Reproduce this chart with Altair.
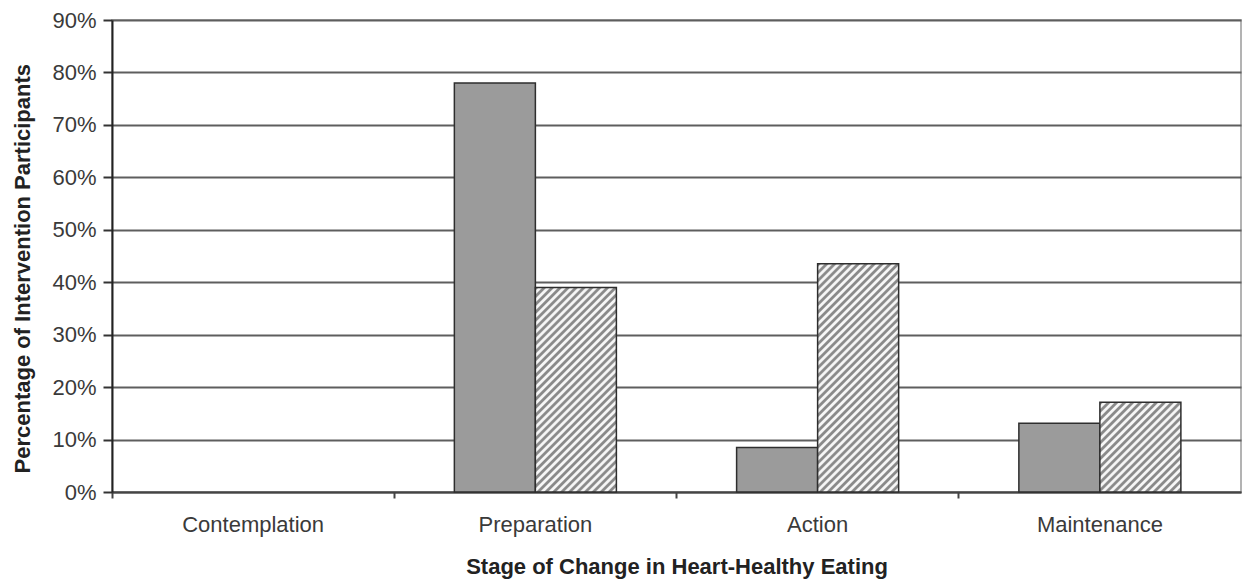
import math

import altair as alt
import pandas as pd

# Share of participants at each stage, before and after the intervention
stages = ["Contemplation", "Preparation", "Action", "Maintenance"]
groups = ["Baseline", "Follow-up"]
baseline_pct = [0.0, 0.78, 0.085, 0.131]
followup_pct = [0.0, 0.39, 0.435, 0.171]
y_tick_values = [0.0, 0.1, 0.2, 0.3, 0.4, 0.5, 0.6, 0.7, 0.8, 0.9]

# Plot-area size and scale extent
W, H = 1129, 472
Y_MAX = 0.9
OFFSET_PAD = 0.742  # outer padding of the pair of bars inside each stage band

FONT = "Liberation Sans"
SOLID = "#9b9b9b"
HATCH_DARK = "#8a8a8a"
HATCH_LIGHT = "#f6f6f6"
EDGE = "#2e2e2e"

rows = []
for stage, b, f in zip(stages, baseline_pct, followup_pct):
    rows.append({"stage": stage, "group": groups[0], "pct": b})
    rows.append({"stage": stage, "group": groups[1], "pct": f})
df = pd.DataFrame(rows)

x_enc = alt.X(
    "stage:N",
    sort=stages,
    scale=alt.Scale(domain=stages, paddingInner=0, paddingOuter=0),
    axis=alt.Axis(
        title="Stage of Change in Heart-Healthy Eating",
        labelAngle=0,
        labelFont=FONT,
        labelFontSize=22,
        labelColor="#3a3a3a",
        labelPadding=16,
        grid=False,
        bandPosition=0,
        ticks=True,
        tickSize=6,
        tickColor="#444444",
        tickWidth=2,
        domainColor="#444444",
        domainWidth=2,
        titleFont=FONT,
        titleFontSize=22,
        titleFontWeight="bold",
        titleColor="#222222",
        titleX=W / 2,
        titleY=81,
        titleBaseline="alphabetic",
    ),
)
xoff_enc = alt.XOffset(
    "group:N",
    scale=alt.Scale(domain=groups, paddingInner=0, paddingOuter=OFFSET_PAD),
)
y_enc = alt.Y(
    "pct:Q",
    scale=alt.Scale(domain=[0, Y_MAX], nice=False, zero=True),
    axis=alt.Axis(
        title="Percentage of Intervention Participants",
        values=y_tick_values,
        format=".0%",
        labelFont=FONT,
        labelFontSize=22,
        labelColor="#3a3a3a",
        labelPadding=7,
        tickSize=9,
        tickColor="#333333",
        tickWidth=2,
        domainColor="#222222",
        domainWidth=2,
        grid=True,
        gridColor="#5e5e5e",
        gridWidth=2.2,
        titleFont=FONT,
        titleFontSize=22,
        titleFontWeight="bold",
        titleColor="#222222",
        titleAngle=270,
        titleAlign="left",
        titleBaseline="alphabetic",
        titleX=-83,
        titleY=453,
    ),
)

base = alt.Chart(df).transform_filter(alt.datum.pct > 0)

solid = (
    base.transform_filter(alt.datum.group == groups[0])
    .mark_bar(fill=SOLID, stroke=EDGE, strokeWidth=1.5)
    .encode(x=x_enc, xOffset=xoff_enc, y=y_enc)
)

# Width of one bar in pixels, used to keep the hatch at 45 degrees
bar_w = W / len(stages) / (len(groups) + 2 * OFFSET_PAD)
PERIOD = 5.6  # stripe spacing, perpendicular to the stripes


def hatch_gradient(value):
    """Linear gradient with repeating stops that renders diagonal stripes."""
    h = value / Y_MAX * H
    w = bar_w
    c = 1.3
    length = c * (w * w + h * h) / (h * math.sqrt(2))
    step = PERIOD / length
    profile = [(0.0, HATCH_DARK), (0.3, HATCH_DARK), (0.5, HATCH_LIGHT), (0.8, HATCH_LIGHT)]
    stops = []
    k = 0
    while True:
        added = False
        for frac, color in profile:
            off = (k + frac) * step
            if off <= 1.0:
                stops.append({"offset": round(off, 5), "color": color})
                added = True
        if not added:
            break
        k += 1
    return {
        "gradient": "linear",
        "x1": 0,
        "y1": 0,
        "x2": round(c * w / h, 5),
        "y2": c,
        "stops": stops,
    }


layers = [solid]
for stage, f in zip(stages, followup_pct):
    if f <= 0:
        continue
    layers.append(
        base.transform_filter(
            (alt.datum.group == groups[1]) & (alt.datum.stage == stage)
        )
        .mark_bar(fill=hatch_gradient(f), stroke=EDGE, strokeWidth=1.5)
        .encode(x=x_enc, xOffset=xoff_enc, y=y_enc)
    )

chart = (
    alt.layer(*layers)
    .properties(
        width=W,
        height=H,
        autosize=alt.AutoSizeParams(type="none"),
        padding={"left": 112, "top": 20, "right": 2, "bottom": 87},
        background="white",
    )
    .configure_view(stroke="#9a9a9a", strokeWidth=1.5)
)

chart.save("out.html", embed_options={"renderer": "svg", "actions": False})
